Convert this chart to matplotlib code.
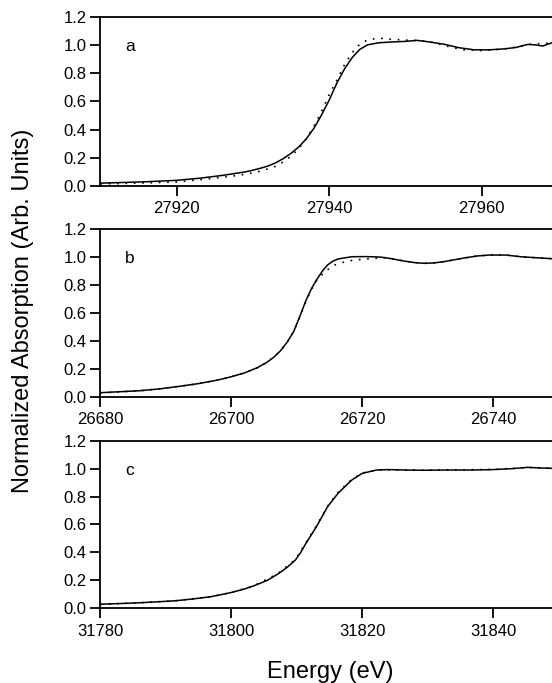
import matplotlib
matplotlib.use("Agg")
from matplotlib import pyplot as plt
from matplotlib.ticker import FormatStrFormatter

plt.rcParams['font.family'] = ['Liberation Sans', 'DejaVu Sans']

# panel a
e_a = [27910, 27913, 27916, 27920, 27923, 27926, 27929, 27930, 27931, 27932, 27933, 27934, 27935,
       27936, 27937, 27938, 27939, 27940, 27941, 27942, 27943, 27944, 27945, 27946.5, 27948, 27950,
       27951.5, 27953, 27955, 27957, 27959, 27961, 27963, 27964.5, 27966, 27967, 27968, 27969.2]
mu_a = [0.020, 0.025, 0.030, 0.040, 0.055, 0.075, 0.100, 0.112, 0.126, 0.142, 0.165, 0.195, 0.232,
        0.277, 0.335, 0.410, 0.505, 0.610, 0.730, 0.830, 0.910, 0.968, 1.000, 1.015, 1.020, 1.025,
        1.032, 1.022, 1.005, 0.980, 0.965, 0.965, 0.972, 0.982, 1.003, 1.000, 0.992, 1.015]
e_a_dot = [27910, 27913, 27916, 27920, 27924, 27927, 27929, 27931, 27933, 27934, 27935, 27936, 27937,
           27938, 27939, 27940, 27941, 27942, 27943, 27944, 27945, 27946.5, 27948, 27950, 27952,
           27953.5, 27955.5, 27957.5, 27960, 27962.8, 27964.5, 27966.3, 27968.9]
mu_a_dot = [0.015, 0.018, 0.022, 0.028, 0.050, 0.068, 0.083, 0.105, 0.140, 0.172, 0.212, 0.265, 0.335,
            0.425, 0.530, 0.650, 0.750, 0.860, 0.945, 1.005, 1.035, 1.048, 1.040, 1.034, 1.030,
            1.018, 0.990, 0.965, 0.960, 0.970, 0.985, 1.005, 1.012]

# panel b
e_b = [26680, 26683, 26686, 26689, 26692, 26695, 26698, 26700, 26702, 26704, 26705.5, 26706.5,
       26707.5, 26708.5, 26709.5, 26710.5, 26711.4, 26712.2, 26713, 26714, 26714.7, 26715.5,
       26716.3, 26718.4, 26720.5, 26722.7, 26724.5, 26726, 26728, 26729.5, 26731, 26732.5, 26735.6,
       26737.5, 26739.4, 26742, 26744.2, 26746.5, 26749]
mu_b = [0.031, 0.038, 0.045, 0.058, 0.076, 0.096, 0.122, 0.145, 0.172, 0.210, 0.250, 0.285,
        0.330, 0.390, 0.465, 0.580, 0.690, 0.770, 0.836, 0.905, 0.943, 0.970,
        0.986, 1.002, 1.003, 1.000, 0.988, 0.974, 0.960, 0.955, 0.958, 0.967, 0.993,
        1.007, 1.014, 1.014, 1.002, 0.995, 0.988]
e_b_dot = [26680, 26683, 26686, 26689, 26692, 26695, 26698, 26700, 26702, 26704, 26705.5, 26706.5,
           26707.5, 26708.5, 26709.5, 26710.5, 26711.4, 26712.2, 26713, 26714.4, 26715.8, 26717.1,
           26718.4, 26720, 26721.7, 26723.5, 26725, 26728, 26729.5, 26731, 26732.5, 26735.6,
           26737.5, 26739.4, 26742, 26744.2, 26746.5, 26749]
mu_b_dot = [0.030, 0.037, 0.045, 0.058, 0.076, 0.096, 0.122, 0.145, 0.172, 0.210, 0.250, 0.285,
            0.330, 0.390, 0.465, 0.575, 0.685, 0.765, 0.830, 0.900, 0.943, 0.962,
            0.975, 0.984, 0.990, 0.995, 0.984, 0.960, 0.955, 0.958, 0.967, 0.993,
            1.007, 1.014, 1.014, 1.002, 0.995, 0.988]

# panel c
e_c = [31780, 31783, 31786.2, 31789, 31791.5, 31794, 31796.9, 31799.9, 31802, 31803.4, 31805.5,
       31807.1, 31808.5, 31809.8, 31810.6, 31811.4, 31813, 31814.7, 31816.3, 31818.4, 31820, 31822.2,
       31824, 31826.5, 31829.2, 31833, 31837, 31840, 31843, 31845.3, 31847, 31849]
mu_c = [0.029, 0.034, 0.040, 0.047, 0.054, 0.066, 0.083, 0.112, 0.138, 0.160, 0.200,
        0.245, 0.292, 0.346, 0.400, 0.465, 0.584, 0.727, 0.823, 0.918, 0.966, 0.990,
        0.993, 0.990, 0.988, 0.990, 0.990, 0.993, 1.000, 1.009, 1.005, 1.002]
e_c_dot = [31780, 31786.2, 31791.5, 31796.9, 31799.9, 31803.4, 31807.1, 31809.8, 31811.4, 31813,
           31814.7, 31816.3, 31818.4, 31820, 31822.2, 31826.5, 31833, 31840, 31845.3, 31849]
mu_c_dot = [0.028, 0.040, 0.054, 0.083, 0.112, 0.160, 0.248, 0.350, 0.470, 0.590,
            0.730, 0.830, 0.922, 0.968, 0.990, 0.990, 0.990, 0.994, 1.008, 1.002]

panels = [
    ('a', e_a, mu_a, e_a_dot, mu_a_dot, (27910, 27969.2), [27920, 27940, 27960]),
    ('b', e_b, mu_b, e_b_dot, mu_b_dot, (26680, 26749), [26680, 26700, 26720, 26740]),
    ('c', e_c, mu_c, e_c_dot, mu_c_dot, (31780, 31849), [31780, 31800, 31820, 31840]),
]
y_ticks = [0.0, 0.2, 0.4, 0.6, 0.8, 1.0, 1.2]

fig = plt.figure(figsize=(5.52, 6.83), dpi=100)
# [left, bottom, width, height] per panel
boxes = [[0.182, 0.7277, 0.818, 0.2479],
         [0.182, 0.4187, 0.818, 0.2460],
         [0.182, 0.1094, 0.818, 0.2454]]

for box, (lab, e, mu, ed, mud, xl, xt) in zip(boxes, panels):
    ax = fig.add_axes(box)
    ax.plot(ed, mud, color='black', lw=1.2, linestyle=(0, (1, 4)))
    ax.plot(e, mu, color='black', lw=1.1)
    ax.set_xlim(*xl)
    ax.set_ylim(0, 1.2)
    ax.set_xticks(xt)
    ax.set_yticks(y_ticks)
    ax.yaxis.set_major_formatter(FormatStrFormatter('%.1f'))
    ax.spines['right'].set_visible(False)
    for s in ['left', 'top', 'bottom']:
        ax.spines[s].set_linewidth(1.3)
    ax.tick_params(direction='out', length=7, width=1.3, labelsize=12, pad=3)
    ax.tick_params(axis='x', pad=4)
    ax.text(0.065, 0.825, lab, transform=ax.transAxes, fontsize=12.5, va='center', ha='center')

fig.text(0.042, 0.545, 'Normalized Absorption (Arb. Units)', rotation=90,
         ha='center', va='center', fontsize=17)
fig.text(0.598, 0.0165, 'Energy (eV)', ha='center', va='center', fontsize=17)

fig.savefig('out.png', dpi=100)
